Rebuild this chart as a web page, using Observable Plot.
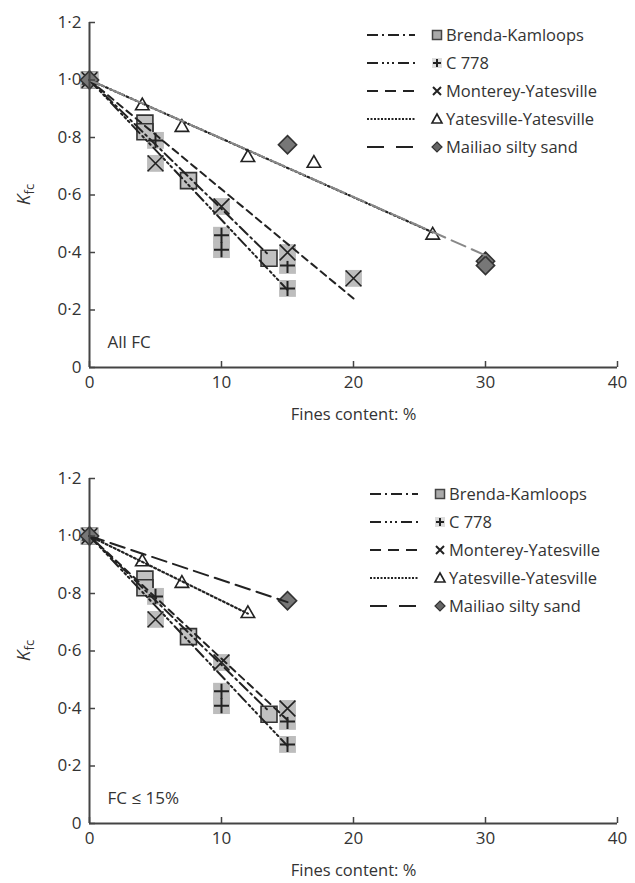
<!DOCTYPE html>
<html><head><meta charset="utf-8">
<script src="https://cdn.jsdelivr.net/npm/d3@7"></script>
<script src="https://cdn.jsdelivr.net/npm/@observablehq/plot@0.6"></script>
<style>
body{margin:0;background:#fff;font-family:"Open Sans",sans-serif;}
#wrap{position:relative;width:635px;height:883px;overflow:hidden;}
#wrap svg{display:block;overflow:visible;}
.legend{position:absolute;left:0;top:0;}
</style></head><body><div id="wrap"></div>
<script>
// ---- data ----
const seriesNames = ["Brenda-Kamloops", "C 778", "Monterey-Yatesville", "Yatesville-Yatesville", "Mailiao silty sand"];
const brendaFC = [0, 4.2, 4.2, 7.5, 13.6];
const brendaK = [1.0, 0.85, 0.82, 0.65, 0.38];
const c778FC = [0, 5, 10, 10, 15, 15];
const c778K = [1.0, 0.79, 0.46, 0.41, 0.355, 0.275];
const montereyFC = [0, 5, 10, 15, 20];
const montereyK = [1.0, 0.71, 0.56, 0.40, 0.31];
const yatesFC = [0, 4, 7, 12, 17, 26];
const yatesK = [1.0, 0.91, 0.835, 0.73, 0.71, 0.46];
const mailiaoFC = [0, 15, 30, 30];
const mailiaoK = [1.0, 0.775, 0.37, 0.355];
// fitted trend lines: all start at (0, 1.0)
const fitStartFC = 0, fitStartK = 1.0;
const fitAllEndFC = [13.6, 15, 20, 26, 30];
const fitAllEndK = [0.39, 0.27, 0.24, 0.47, 0.39];
const fit15EndFC = [13.6, 15, 15, 12, 15];
const fit15EndK = [0.39, 0.27, 0.36, 0.73, 0.77];
const xTicks = [0, 10, 20, 30, 40];
const yTicks = [0, 0.2, 0.4, 0.6, 0.8, 1.0, 1.2];
const panelLabels = ["All FC", "FC \u2264 15%"];
const xLabel = "Fines content: %";

// ---- styles ----
const dashes = ["11,4,2,4", "11,4,2,3,2,3,2,4", "7,5", "2,2.5", "15,7"];
const ink = "#222";
const txt = "#333";
const fmtY = v => v === 0 ? "0" : v.toFixed(1).replace(".", "\u00b7");

function pts(fc, k, maxFC) {
  return fc.map((f, i) => ({fc: f, k: k[i]})).filter(d => d.fc <= maxFC);
}

function chart({maxFC, endFC, endK, mailiaoStroke, label, height, marginTop, marginBottom}) {
  const brenda = pts(brendaFC, brendaK, maxFC);
  const c778 = pts(c778FC, c778K, maxFC);
  const monterey = pts(montereyFC, montereyK, maxFC);
  const yates = pts(yatesFC, yatesK, maxFC);
  const mailiao = pts(mailiaoFC, mailiaoK, maxFC);
  const fits = seriesNames.map((s, i) => [{fc: fitStartFC, k: fitStartK}, {fc: endFC[i], k: endK[i]}]);
  const fitMarks = fits.map((f, i) => Plot.line(f, {
    x: "fc", y: "k",
    stroke: i === 4 ? mailiaoStroke : ink,
    strokeWidth: i === 3 ? 2.2 : 2, strokeDasharray: dashes[i]
  }));
  const p = Plot.plot({
    width: 635, height, marginLeft: 89, marginRight: 18, marginTop, marginBottom,
    style: {fontFamily: "'Open Sans', sans-serif", background: "#fff"},
    x: {domain: [0, 40]},
    y: {domain: [0, 1.2]},
    marks: [
      // markers
      Plot.dot(brenda, {x: "fc", y: "k", symbol: "square", r: 9, fill: "#c0c0c0", stroke: "#333", strokeWidth: 1.6}),
      Plot.dot(c778, {x: "fc", y: "k", symbol: "square", r: 9.5, fill: "#bdbdbd", stroke: "none"}),
      Plot.dot(c778, {x: "fc", y: "k", symbol: "plus", r: 4.9, stroke: ink, strokeWidth: 2}),
      Plot.dot(monterey, {x: "fc", y: "k", symbol: "square", r: 9.5, fill: "#bdbdbd", stroke: "none"}),
      Plot.dot(monterey, {x: "fc", y: "k", symbol: "times", r: 7.2, stroke: ink, strokeWidth: 1.6}),
      Plot.dot(yates, {x: "fc", y: "k", symbol: "triangle", r: 5, fill: "#fff", stroke: ink, strokeWidth: 1.6}),
      Plot.dot(mailiao, {x: "fc", y: "k", symbol: "diamond2", r: 8.2, fill: "#777", stroke: "#333", strokeWidth: 1.6}),
      // trend lines
      ...fitMarks,
      // axes
      Plot.ruleY([0], {stroke: "#444", strokeWidth: 2}),
      Plot.ruleX([0], {stroke: "#444", strokeWidth: 2}),
      Plot.axisX(xTicks, {tickSize: 6, dy: -6, tickFormat: () => "", stroke: "#444", strokeWidth: 1.5, label: null}),
      Plot.axisX(xTicks, {tickSize: 0, tickPadding: 8, fontSize: 17, color: txt, label: null}),
      Plot.axisY(yTicks, {tickSize: 6, dx: 6, tickFormat: () => "", stroke: "#444", strokeWidth: 1.5, label: null}),
      Plot.axisY(yTicks, {tickSize: 0, tickPadding: 8, fontSize: 17, color: txt, tickFormat: fmtY, label: null}),
      Plot.text([label], {frameAnchor: "bottom-left", dx: 18, dy: -25, fontSize: 17, fill: txt, textAnchor: "start", lineAnchor: "middle"}),
      Plot.text([xLabel], {frameAnchor: "bottom", dy: 47, fontSize: 16.5, fill: txt, lineAnchor: "middle"})
    ]
  });
  // y axis title K_fc
  const svg = d3.select(p);
  const cy = (marginTop + height - marginBottom) / 2;
  const t = svg.append("text")
    .attr("transform", `translate(30,${cy}) rotate(-90)`)
    .attr("text-anchor", "middle").attr("fill", txt)
    .style("font-family", "'Open Sans', sans-serif");
  t.append("tspan").attr("font-style", "italic").attr("font-size", 19).text("K");
  t.append("tspan").attr("font-size", 13).attr("dy", 4).text("fc");
  return p;
}

function legend(top, left, mailiaoStroke) {
  const rowH = 28;
  const svg = d3.create("svg").attr("class", "legend")
    .attr("width", 270).attr("height", 150)
    .style("left", left + "px").style("top", top + "px");
  seriesNames.forEach((name, i) => {
    const y = 10 + i * rowH;
    const g = svg.append("g");
    g.append("line").attr("x1", 2).attr("x2", 50).attr("y1", y).attr("y2", y)
      .attr("stroke", ink).attr("stroke-width", 2)
      .attr("stroke-dasharray", i === 3 ? "2,1.5" : (i === 4 ? "17,12" : (i === 2 ? "11,7" : dashes[i])));
    const mx = 72;
    if (i === 0) g.append("rect").attr("x", mx - 4.5).attr("y", y - 4.5).attr("width", 9).attr("height", 9).attr("fill", "#aaa").attr("stroke", "#444").attr("stroke-width", 1.5);
    if (i === 1) {
      g.append("rect").attr("x", mx - 5).attr("y", y - 5).attr("width", 10).attr("height", 10).attr("fill", "#ddd");
      g.append("path").attr("d", `M${mx - 4},${y}H${mx + 4}M${mx},${y - 4}V${y + 4}`).attr("stroke", ink).attr("stroke-width", 2);
    }
    if (i === 2) g.append("path").attr("d", `M${mx - 4},${y - 4}L${mx + 4},${y + 4}M${mx + 4},${y - 4}L${mx - 4},${y + 4}`).attr("stroke", ink).attr("stroke-width", 2);
    if (i === 3) g.append("path").attr("d", `M${mx},${y - 5}L${mx + 5},${y + 4}L${mx - 5},${y + 4}Z`).attr("fill", "#fff").attr("stroke", ink).attr("stroke-width", 1.6);
    if (i === 4) g.append("path").attr("d", `M${mx},${y - 5}L${mx + 5},${y}L${mx},${y + 5}L${mx - 5},${y}Z`).attr("fill", "#666").attr("stroke", "#333").attr("stroke-width", 1.2);
    g.append("text").attr("x", 81).attr("y", y).attr("dy", "0.35em")
      .attr("font-size", 16.5).attr("fill", txt)
      .style("font-family", "'Open Sans', sans-serif").text(name);
  });
  return svg.node();
}

const wrap = document.getElementById("wrap");
wrap.appendChild(chart({maxFC: 100, endFC: fitAllEndFC, endK: fitAllEndK, mailiaoStroke: "#888", label: panelLabels[0], height: 445, marginTop: 22, marginBottom: 78}));
wrap.appendChild(chart({maxFC: 15, endFC: fit15EndFC, endK: fit15EndK, mailiaoStroke: ink, label: panelLabels[1], height: 438, marginTop: 33, marginBottom: 60}));
wrap.appendChild(legend(25, 365, "#888"));
wrap.appendChild(legend(484, 368, ink));
</script></body></html>
